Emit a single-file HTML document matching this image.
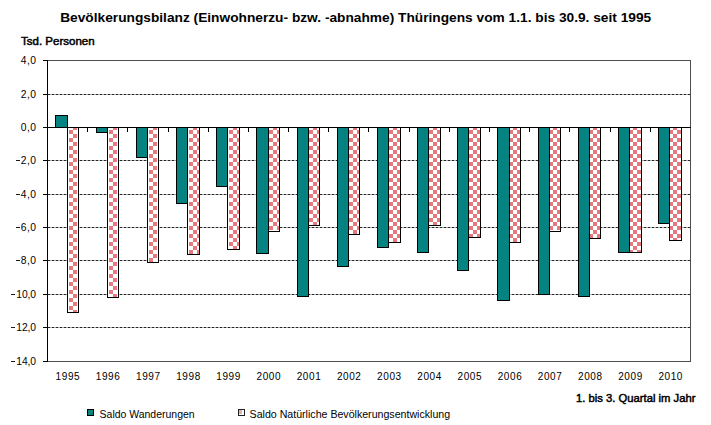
<!DOCTYPE html><html><head><meta charset="utf-8"><style>
html,body{margin:0;padding:0;background:#fff;width:711px;height:425px;overflow:hidden}
svg{display:block}
text{font-family:"Liberation Sans",sans-serif}
</style></head><body>
<svg width="711" height="425" viewBox="0 0 711 425">
<defs><pattern id="ck" patternUnits="userSpaceOnUse" x="1" y="2" width="8" height="8">
<rect x="0" y="0" width="8" height="8" fill="#fff"/>
<rect x="4" y="0" width="4" height="4" fill="#e57a7e"/>
<rect x="0" y="4" width="4" height="4" fill="#e57a7e"/>
</pattern></defs>
<rect width="711" height="425" fill="#fff"/>
<g shape-rendering="crispEdges">

<line x1="48" y1="94.5" x2="690" y2="94.5" stroke="#a8a8a8" stroke-width="1"/>
<line x1="48" y1="94.5" x2="690" y2="94.5" stroke="#262626" stroke-width="1" stroke-dasharray="2,2"/>
<line x1="48" y1="160.5" x2="690" y2="160.5" stroke="#a8a8a8" stroke-width="1"/>
<line x1="48" y1="160.5" x2="690" y2="160.5" stroke="#262626" stroke-width="1" stroke-dasharray="2,2"/>
<line x1="48" y1="194.5" x2="690" y2="194.5" stroke="#a8a8a8" stroke-width="1"/>
<line x1="48" y1="194.5" x2="690" y2="194.5" stroke="#262626" stroke-width="1" stroke-dasharray="2,2"/>
<line x1="48" y1="227.5" x2="690" y2="227.5" stroke="#a8a8a8" stroke-width="1"/>
<line x1="48" y1="227.5" x2="690" y2="227.5" stroke="#262626" stroke-width="1" stroke-dasharray="2,2"/>
<line x1="48" y1="260.5" x2="690" y2="260.5" stroke="#a8a8a8" stroke-width="1"/>
<line x1="48" y1="260.5" x2="690" y2="260.5" stroke="#262626" stroke-width="1" stroke-dasharray="2,2"/>
<line x1="48" y1="294.5" x2="690" y2="294.5" stroke="#a8a8a8" stroke-width="1"/>
<line x1="48" y1="294.5" x2="690" y2="294.5" stroke="#262626" stroke-width="1" stroke-dasharray="2,2"/>
<line x1="48" y1="327.5" x2="690" y2="327.5" stroke="#a8a8a8" stroke-width="1"/>
<line x1="48" y1="327.5" x2="690" y2="327.5" stroke="#262626" stroke-width="1" stroke-dasharray="2,2"/>
<line x1="47" y1="60.5" x2="691" y2="60.5" stroke="#4d4d4d" stroke-width="1"/>
<line x1="690.5" y1="60" x2="690.5" y2="362" stroke="#4d4d4d" stroke-width="1"/>
<line x1="47" y1="361.5" x2="691" y2="361.5" stroke="#4d4d4d" stroke-width="1"/>
<line x1="43" y1="60.5" x2="47" y2="60.5" stroke="#000" stroke-width="1"/>
<line x1="43" y1="94.5" x2="47" y2="94.5" stroke="#000" stroke-width="1"/>
<line x1="43" y1="127.5" x2="47" y2="127.5" stroke="#000" stroke-width="1"/>
<line x1="43" y1="160.5" x2="47" y2="160.5" stroke="#000" stroke-width="1"/>
<line x1="43" y1="194.5" x2="47" y2="194.5" stroke="#000" stroke-width="1"/>
<line x1="43" y1="227.5" x2="47" y2="227.5" stroke="#000" stroke-width="1"/>
<line x1="43" y1="260.5" x2="47" y2="260.5" stroke="#000" stroke-width="1"/>
<line x1="43" y1="294.5" x2="47" y2="294.5" stroke="#000" stroke-width="1"/>
<line x1="43" y1="327.5" x2="47" y2="327.5" stroke="#000" stroke-width="1"/>
<line x1="43" y1="361.5" x2="47" y2="361.5" stroke="#000" stroke-width="1"/>
<rect x="55.5" y="115.5" width="12" height="12" fill="#058380" stroke="#000" stroke-width="1"/>
<rect x="68" y="128" width="10" height="184" fill="#fff"/>
<rect x="69" y="128" width="8" height="184" fill="url(#ck)"/>
<rect x="67.5" y="127.5" width="11" height="185" fill="none" stroke="#000" stroke-width="1"/>
<rect x="96.5" y="127.5" width="11" height="5" fill="#058380" stroke="#000" stroke-width="1"/>
<rect x="108" y="128" width="10" height="169" fill="#fff"/>
<rect x="109" y="128" width="8" height="169" fill="url(#ck)"/>
<rect x="107.5" y="127.5" width="11" height="170" fill="none" stroke="#000" stroke-width="1"/>
<rect x="136.5" y="127.5" width="11" height="30" fill="#058380" stroke="#000" stroke-width="1"/>
<rect x="148" y="128" width="10" height="134" fill="#fff"/>
<rect x="149" y="128" width="8" height="134" fill="url(#ck)"/>
<rect x="147.5" y="127.5" width="11" height="135" fill="none" stroke="#000" stroke-width="1"/>
<rect x="176.5" y="127.5" width="11" height="76" fill="#058380" stroke="#000" stroke-width="1"/>
<rect x="188" y="128" width="11" height="126" fill="#fff"/>
<rect x="189" y="128" width="10" height="126" fill="url(#ck)"/>
<rect x="187.5" y="127.5" width="12" height="127" fill="none" stroke="#000" stroke-width="1"/>
<rect x="216.5" y="127.5" width="11" height="59" fill="#058380" stroke="#000" stroke-width="1"/>
<rect x="228" y="128" width="11" height="121" fill="#fff"/>
<rect x="229" y="128" width="10" height="121" fill="url(#ck)"/>
<rect x="227.5" y="127.5" width="12" height="122" fill="none" stroke="#000" stroke-width="1"/>
<rect x="256.5" y="127.5" width="12" height="126" fill="#058380" stroke="#000" stroke-width="1"/>
<rect x="269" y="128" width="10" height="103" fill="#fff"/>
<rect x="269" y="128" width="10" height="102" fill="url(#ck)"/>
<rect x="268.5" y="127.5" width="11" height="104" fill="none" stroke="#000" stroke-width="1"/>
<rect x="297.5" y="127.5" width="11" height="169" fill="#058380" stroke="#000" stroke-width="1"/>
<rect x="309" y="128" width="10" height="97" fill="#fff"/>
<rect x="309" y="128" width="10" height="97" fill="url(#ck)"/>
<rect x="308.5" y="127.5" width="11" height="98" fill="none" stroke="#000" stroke-width="1"/>
<rect x="337.5" y="127.5" width="11" height="139" fill="#058380" stroke="#000" stroke-width="1"/>
<rect x="349" y="128" width="10" height="106" fill="#fff"/>
<rect x="349" y="128" width="10" height="106" fill="url(#ck)"/>
<rect x="348.5" y="127.5" width="11" height="107" fill="none" stroke="#000" stroke-width="1"/>
<rect x="377.5" y="127.5" width="11" height="120" fill="#058380" stroke="#000" stroke-width="1"/>
<rect x="389" y="128" width="11" height="114" fill="#fff"/>
<rect x="389" y="128" width="11" height="114" fill="url(#ck)"/>
<rect x="388.5" y="127.5" width="12" height="115" fill="none" stroke="#000" stroke-width="1"/>
<rect x="417.5" y="127.5" width="11" height="125" fill="#058380" stroke="#000" stroke-width="1"/>
<rect x="429" y="128" width="11" height="97" fill="#fff"/>
<rect x="429" y="128" width="11" height="97" fill="url(#ck)"/>
<rect x="428.5" y="127.5" width="12" height="98" fill="none" stroke="#000" stroke-width="1"/>
<rect x="457.5" y="127.5" width="11" height="143" fill="#058380" stroke="#000" stroke-width="1"/>
<rect x="469" y="128" width="11" height="109" fill="#fff"/>
<rect x="469" y="128" width="11" height="109" fill="url(#ck)"/>
<rect x="468.5" y="127.5" width="12" height="110" fill="none" stroke="#000" stroke-width="1"/>
<rect x="497.5" y="127.5" width="12" height="173" fill="#058380" stroke="#000" stroke-width="1"/>
<rect x="510" y="128" width="10" height="114" fill="#fff"/>
<rect x="510" y="128" width="10" height="114" fill="url(#ck)"/>
<rect x="509.5" y="127.5" width="11" height="115" fill="none" stroke="#000" stroke-width="1"/>
<rect x="538.5" y="127.5" width="11" height="167" fill="#058380" stroke="#000" stroke-width="1"/>
<rect x="550" y="128" width="10" height="103" fill="#fff"/>
<rect x="550" y="128" width="10" height="102" fill="url(#ck)"/>
<rect x="549.5" y="127.5" width="11" height="104" fill="none" stroke="#000" stroke-width="1"/>
<rect x="578.5" y="127.5" width="11" height="169" fill="#058380" stroke="#000" stroke-width="1"/>
<rect x="590" y="128" width="10" height="110" fill="#fff"/>
<rect x="590" y="128" width="10" height="110" fill="url(#ck)"/>
<rect x="589.5" y="127.5" width="11" height="111" fill="none" stroke="#000" stroke-width="1"/>
<rect x="618.5" y="127.5" width="11" height="125" fill="#058380" stroke="#000" stroke-width="1"/>
<rect x="630" y="128" width="11" height="124" fill="#fff"/>
<rect x="630" y="128" width="11" height="124" fill="url(#ck)"/>
<rect x="629.5" y="127.5" width="12" height="125" fill="none" stroke="#000" stroke-width="1"/>
<rect x="658.5" y="127.5" width="11" height="96" fill="#058380" stroke="#000" stroke-width="1"/>
<rect x="670" y="128" width="11" height="112" fill="#fff"/>
<rect x="670" y="128" width="11" height="112" fill="url(#ck)"/>
<rect x="669.5" y="127.5" width="12" height="113" fill="none" stroke="#000" stroke-width="1"/>
<line x1="47" y1="127.5" x2="691" y2="127.5" stroke="#000" stroke-width="1"/>
<line x1="87.5" y1="127" x2="87.5" y2="132" stroke="#000" stroke-width="1"/>
<line x1="127.5" y1="127" x2="127.5" y2="132" stroke="#000" stroke-width="1"/>
<line x1="168.5" y1="127" x2="168.5" y2="132" stroke="#000" stroke-width="1"/>
<line x1="208.5" y1="127" x2="208.5" y2="132" stroke="#000" stroke-width="1"/>
<line x1="248.5" y1="127" x2="248.5" y2="132" stroke="#000" stroke-width="1"/>
<line x1="288.5" y1="127" x2="288.5" y2="132" stroke="#000" stroke-width="1"/>
<line x1="328.5" y1="127" x2="328.5" y2="132" stroke="#000" stroke-width="1"/>
<line x1="368.5" y1="127" x2="368.5" y2="132" stroke="#000" stroke-width="1"/>
<line x1="409.5" y1="127" x2="409.5" y2="132" stroke="#000" stroke-width="1"/>
<line x1="449.5" y1="127" x2="449.5" y2="132" stroke="#000" stroke-width="1"/>
<line x1="489.5" y1="127" x2="489.5" y2="132" stroke="#000" stroke-width="1"/>
<line x1="529.5" y1="127" x2="529.5" y2="132" stroke="#000" stroke-width="1"/>
<line x1="569.5" y1="127" x2="569.5" y2="132" stroke="#000" stroke-width="1"/>
<line x1="610.5" y1="127" x2="610.5" y2="132" stroke="#000" stroke-width="1"/>
<line x1="650.5" y1="127" x2="650.5" y2="132" stroke="#000" stroke-width="1"/>
<line x1="47.5" y1="60" x2="47.5" y2="362" stroke="#000" stroke-width="1"/>
</g>
<text x="60.2" y="22" font-size="12.2" font-weight="bold" fill="#000" textLength="591" lengthAdjust="spacingAndGlyphs">Bevölkerungsbilanz (Einwohnerzu- bzw. -abnahme) Thüringens vom 1.1. bis 30.9. seit 1995</text>
<text x="21" y="45" font-size="10.2" fill="#000" stroke="#000" stroke-width="0.45" textLength="73.6" lengthAdjust="spacingAndGlyphs">Tsd. Personen</text>
<text x="20.8" y="63.8" font-size="10.3" fill="#000" textLength="15.3" lengthAdjust="spacing">4,0</text>
<text x="20.8" y="97.8" font-size="10.3" fill="#000" textLength="15.3" lengthAdjust="spacing">2,0</text>
<text x="20.8" y="130.8" font-size="10.3" fill="#000" textLength="15.3" lengthAdjust="spacing">0,0</text>
<text x="20.8" y="163.8" font-size="10.3" fill="#000" textLength="15.3" lengthAdjust="spacing">2,0</text>
<rect x="16" y="160" width="4" height="1" fill="#1a1a1a"/>
<text x="20.8" y="197.8" font-size="10.3" fill="#000" textLength="15.3" lengthAdjust="spacing">4,0</text>
<rect x="16" y="194" width="4" height="1" fill="#1a1a1a"/>
<text x="20.8" y="230.8" font-size="10.3" fill="#000" textLength="15.3" lengthAdjust="spacing">6,0</text>
<rect x="16" y="227" width="4" height="1" fill="#1a1a1a"/>
<text x="20.8" y="263.8" font-size="10.3" fill="#000" textLength="15.3" lengthAdjust="spacing">8,0</text>
<rect x="16" y="260" width="4" height="1" fill="#1a1a1a"/>
<text x="16.3" y="297.8" font-size="10.3" fill="#000" textLength="19.8" lengthAdjust="spacing">10,0</text>
<rect x="11" y="294" width="4" height="1" fill="#1a1a1a"/>
<text x="16.3" y="330.8" font-size="10.3" fill="#000" textLength="19.8" lengthAdjust="spacing">12,0</text>
<rect x="11" y="327" width="4" height="1" fill="#1a1a1a"/>
<text x="16.3" y="364.8" font-size="10.3" fill="#000" textLength="19.8" lengthAdjust="spacing">14,0</text>
<rect x="11" y="361" width="4" height="1" fill="#1a1a1a"/>
<text x="67.6" y="380" font-size="10" fill="#000" text-anchor="middle" textLength="24" lengthAdjust="spacing">1995</text>
<text x="107.8" y="380" font-size="10" fill="#000" text-anchor="middle" textLength="24" lengthAdjust="spacing">1996</text>
<text x="148.0" y="380" font-size="10" fill="#000" text-anchor="middle" textLength="24" lengthAdjust="spacing">1997</text>
<text x="188.2" y="380" font-size="10" fill="#000" text-anchor="middle" textLength="24" lengthAdjust="spacing">1998</text>
<text x="228.3" y="380" font-size="10" fill="#000" text-anchor="middle" textLength="24" lengthAdjust="spacing">1999</text>
<text x="268.5" y="380" font-size="10" fill="#000" text-anchor="middle" textLength="24" lengthAdjust="spacing">2000</text>
<text x="308.7" y="380" font-size="10" fill="#000" text-anchor="middle" textLength="24" lengthAdjust="spacing">2001</text>
<text x="348.9" y="380" font-size="10" fill="#000" text-anchor="middle" textLength="24" lengthAdjust="spacing">2002</text>
<text x="389.1" y="380" font-size="10" fill="#000" text-anchor="middle" textLength="24" lengthAdjust="spacing">2003</text>
<text x="429.3" y="380" font-size="10" fill="#000" text-anchor="middle" textLength="24" lengthAdjust="spacing">2004</text>
<text x="469.5" y="380" font-size="10" fill="#000" text-anchor="middle" textLength="24" lengthAdjust="spacing">2005</text>
<text x="509.7" y="380" font-size="10" fill="#000" text-anchor="middle" textLength="24" lengthAdjust="spacing">2006</text>
<text x="549.8" y="380" font-size="10" fill="#000" text-anchor="middle" textLength="24" lengthAdjust="spacing">2007</text>
<text x="590.0" y="380" font-size="10" fill="#000" text-anchor="middle" textLength="24" lengthAdjust="spacing">2008</text>
<text x="630.2" y="380" font-size="10" fill="#000" text-anchor="middle" textLength="24" lengthAdjust="spacing">2009</text>
<text x="670.4" y="380" font-size="10" fill="#000" text-anchor="middle" textLength="24" lengthAdjust="spacing">2010</text>
<text x="576" y="402.1" font-size="10.3" fill="#000" stroke="#000" stroke-width="0.45" textLength="119.5" lengthAdjust="spacingAndGlyphs">1. bis 3. Quartal im Jahr</text>
<rect x="87.5" y="409.5" width="6" height="6" fill="#058380" stroke="#000" stroke-width="1" shape-rendering="crispEdges"/>
<text x="99.6" y="417.5" font-size="10.5" fill="#000" textLength="95" lengthAdjust="spacingAndGlyphs">Saldo Wanderungen</text>
<rect x="238.5" y="409.5" width="6" height="6" fill="#fff" stroke="#222" stroke-width="1" shape-rendering="crispEdges"/>
<rect x="239" y="410" width="3" height="4" fill="#dcb4b6" shape-rendering="crispEdges"/>
<text x="249.6" y="417.5" font-size="10.5" fill="#000" textLength="200.5" lengthAdjust="spacingAndGlyphs">Saldo Natürliche Bevölkerungsentwicklung</text>
</svg></body></html>
